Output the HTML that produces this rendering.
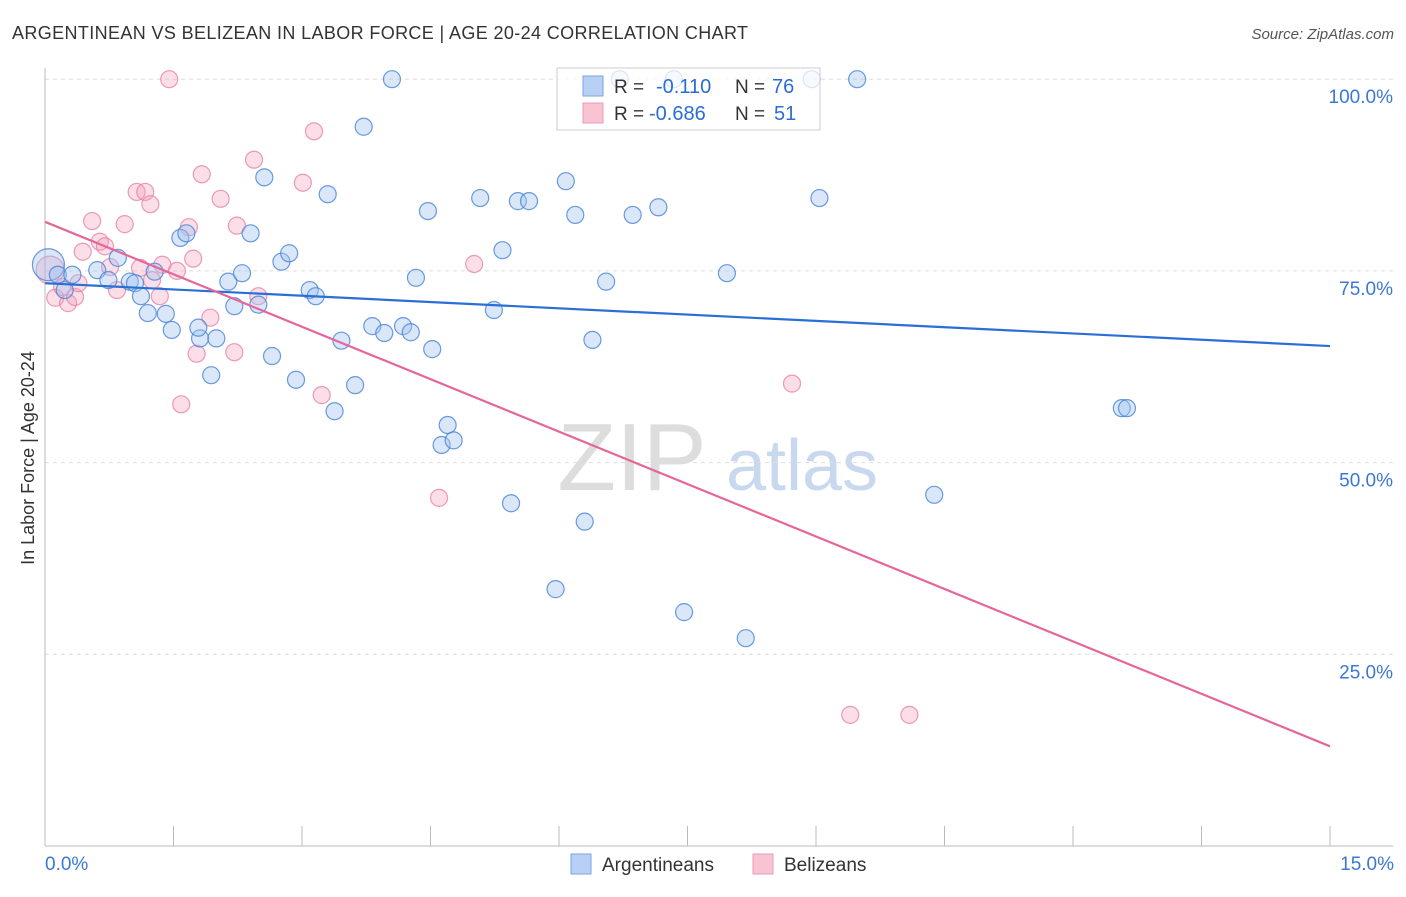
<!DOCTYPE html>
<html><head><meta charset="utf-8"><style>
body{margin:0;background:#fff;font-family:"Liberation Sans",sans-serif}
svg text{font-family:"Liberation Sans",sans-serif}
</style></head><body>
<svg id="c" width="1406" height="892" xmlns="http://www.w3.org/2000/svg">
<text x="12" y="39" font-size="18" fill="#333" textLength="736">ARGENTINEAN VS BELIZEAN IN LABOR FORCE | AGE 20-24 CORRELATION CHART</text>
<text x="1394" y="39" font-size="15" fill="#555" font-style="italic" text-anchor="end">Source: ZipAtlas.com</text>
<text x="34" y="458" font-size="18" fill="#333" text-anchor="middle" transform="rotate(-90 34 458)">In Labor Force | Age 20-24</text>
<g><text x="632" y="490" font-size="96" fill="#ddd" font-family="Liberation Serif" text-anchor="middle">ZIP</text><text x="802" y="490" font-size="72" fill="#c8d8ee" text-anchor="middle">atlas</text></g>
<g id="grid"></g><g id="pts"></g><g id="lines"></g>
<g>
<rect x="557" y="68" width="263" height="62" fill="rgba(255,255,255,0.75)" stroke="#ccc"/>
<rect x="583" y="76" width="20" height="20" fill="#b8d0f4" stroke="#7aa3e0"/>
<rect x="583" y="103" width="20" height="20" fill="#f8c4d4" stroke="#eb9ab4"/>
<text x="614" y="93" font-size="19" fill="#333">R =</text><text x="656" y="93" font-size="20" fill="#2b6cd4">-0.110</text>
<text x="735" y="93" font-size="19" fill="#333">N =</text><text x="772" y="93" font-size="20" fill="#2b6cd4">76</text>
<text x="614" y="120" font-size="19" fill="#333">R =</text><text x="649" y="120" font-size="20" fill="#2b6cd4">-0.686</text>
<text x="735" y="120" font-size="19" fill="#333">N =</text><text x="774" y="120" font-size="20" fill="#2b6cd4">51</text>
</g>
<g>
<rect x="571" y="854" width="20" height="20" fill="#b8d0f4" stroke="#7aa3e0"/>
<text x="602" y="871" font-size="19" fill="#333">Argentineans</text>
<rect x="753" y="854" width="20" height="20" fill="#f8c4d4" stroke="#eb9ab4"/>
<text x="784" y="871" font-size="19" fill="#333">Belizeans</text>
</g>
</svg>
<script>
const yTicks=[25,50,75,100];
const yTickLabels=["25.0%","50.0%","75.0%","100.0%"];
const xTickLabels=["0.0%","15.0%"];
const blueX=[0.04,0.15,0.32,0.23,0.61,0.74,0.85,0.99,1.05,1.12,1.20,1.28,1.41,1.48,1.58,1.65,1.81,1.79,1.94,2.00,2.14,2.21,2.30,2.40,2.49,2.56,2.65,2.76,2.85,2.93,3.09,3.16,3.30,3.38,3.46,3.62,3.72,3.82,3.96,4.05,4.18,4.27,4.33,4.47,4.52,4.63,4.70,4.77,5.08,5.24,5.34,5.44,5.52,5.65,5.96,6.08,6.19,6.30,6.39,6.55,6.71,6.86,7.16,7.34,7.46,7.96,8.18,8.95,9.04,9.48,10.38,12.57,12.63];
const blueY=[75.8,74.5,74.5,72.5,75.1,73.8,76.7,73.6,73.4,71.7,69.5,74.9,69.4,67.3,79.3,79.9,66.2,67.6,61.4,66.2,73.6,70.4,74.7,79.9,70.6,87.2,63.9,76.2,77.3,60.8,72.5,71.7,85.0,56.7,65.9,60.1,93.8,67.8,66.9,100,67.8,67.0,74.1,82.8,64.8,52.3,54.9,52.9,84.5,69.9,77.7,44.7,84.1,84.1,33.5,86.7,82.3,42.3,66.0,73.6,100,82.3,83.3,100,30.5,74.7,27.1,100,84.5,100,45.8,57.1,57.1];
const pinkX=[0.06,0.12,0.20,0.27,0.35,0.39,0.44,0.55,0.64,0.70,0.76,0.84,0.93,1.07,1.17,1.23,1.11,1.25,1.34,1.37,1.45,1.54,1.59,1.68,1.73,1.77,1.83,1.93,2.05,2.21,2.24,2.44,2.49,3.01,3.14,3.23,4.60,5.01,8.72,9.40,10.09];
const pinkY=[75.1,71.5,72.9,70.8,71.6,73.4,77.5,81.5,78.8,78.2,75.5,72.5,81.1,85.3,85.3,83.7,75.4,73.8,71.7,75.8,100,75.0,57.6,80.7,76.6,64.2,87.6,68.9,84.4,64.4,80.9,89.5,71.7,86.5,93.2,58.8,45.4,75.9,60.3,17.1,17.1];
const blueTrend=[73.4,65.2];
const pinkTrend=[81.4,13.0];
const X=v=>45+v*1285/15, Y=v=>846-v*7.668;
const NS="http://www.w3.org/2000/svg";
function mk(t,a,p){const e=document.createElementNS(NS,t);for(const k in a)e.setAttribute(k,a[k]);p.appendChild(e);return e;}
const g=document.getElementById('grid');
yTicks.forEach((t,i)=>{
 const l=mk('line',{x1:45,x2:1393,y1:Y(t),y2:Y(t),stroke:'#ddd','stroke-dasharray':'4,4'},g);
 
 
 const tx=mk('text',{x:1393,y:Y(t)+24,'font-size':19,fill:'#3a78d4','text-anchor':'end'},g);tx.textContent=yTickLabels[i];
 
 
});
mk('line',{x1:45,x2:45,y1:68,y2:846,stroke:'#bbb'},g);
mk('line',{x1:45,x2:1393,y1:846,y2:846,stroke:'#bbb'},g);
for(let i=0;i<=10;i++){const t=mk('line',{x1:X(i*1.5),x2:X(i*1.5),y1:826,y2:846,stroke:'#bbb'},g);
 
 }
[0,1].forEach(i=>{const t=mk('text',{x:i?1394:45,y:870,'font-size':19,fill:'#3a78d4','text-anchor':i?'end':'start'},g);t.textContent=xTickLabels[i];
 
 });
const P=document.getElementById('pts');
pinkX.forEach((x,i)=>{const c=mk('circle',{cx:X(x),cy:Y(pinkY[i]),r:i==0?14:8.5,fill:'rgba(244,160,188,0.35)',stroke:'rgba(232,130,165,0.8)','stroke-width':1.2},P);
 
 });
blueX.forEach((x,i)=>{const c=mk('circle',{cx:X(x),cy:Y(blueY[i]),r:i==0?16:8.5,fill:'rgba(160,195,240,0.4)',stroke:'rgba(70,130,215,0.8)','stroke-width':1.2},P);
 
 });
const L=document.getElementById('lines');
const b=mk('line',{x1:X(0),y1:Y(blueTrend[0]),x2:X(15),y2:Y(blueTrend[1]),stroke:'#2a6fd6','stroke-width':2.2},L);


const pk=mk('line',{x1:X(0),y1:Y(pinkTrend[0]),x2:X(15),y2:Y(pinkTrend[1]),stroke:'#e5679a','stroke-width':2.2},L);


</script>
</body></html>
